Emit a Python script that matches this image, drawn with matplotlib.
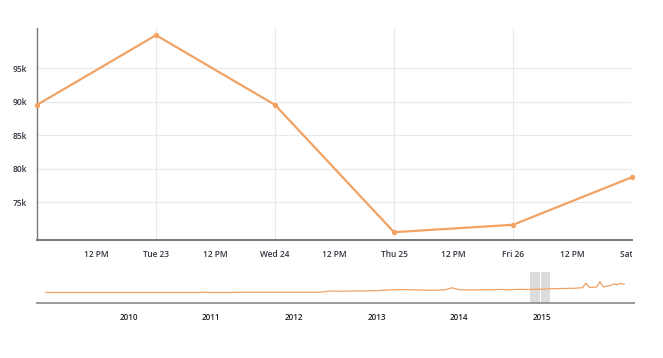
import numpy as np
import pandas as pd
import matplotlib
matplotlib.use("Agg")
import matplotlib.pyplot as plt
from matplotlib.transforms import Bbox, TransformedBbox

plt.rcParams['font.family'] = ['Open Sans', 'DejaVu Sans']

# main chart: one point per day, Dec 2014
day_dates = pd.date_range('2014-12-22', '2014-12-27', freq='D')
day_values = [89500, 99900, 89500, 70500, 71600, 78700]

# navigator: monthly overview 2009..2014, twice a month for 2015
nav_dates = list(pd.date_range('2009-01-01', '2014-12-01', freq='MS')) + \
    list(pd.date_range('2015-01-01', '2015-12-16', freq='SMS')) + [pd.Timestamp('2016-01-01')]
nav_values = [
    68, 68, 68, 68, 68, 68, 68, 68, 68, 68, 68, 68,      # 2009
    68, 68, 68, 68, 68, 68, 68, 68, 68, 68, 68, 69,      # 2010
    68, 68, 68, 68, 69, 69, 69, 69, 69, 69, 69, 69,      # 2011
    69, 69, 69, 69, 70, 76, 77, 76, 77, 78, 77, 79,      # 2012
    80, 82, 84, 86, 87, 85, 84, 83, 82, 83, 85, 98,      # 2013
    86, 85, 84, 85, 86, 86, 87, 86, 87, 88, 87, 88,      # 2014
    89, 90, 91, 92, 92, 93, 94, 93, 95, 94, 96, 97,      # 2015 Jan-Jun
    99, 128, 100, 101, 103, 137, 104, 108, 113, 123, 118, 126,  # 2015 Jul-Dec
    120,                                                 # 2016
]
nav_values = [v * 1000 for v in nav_values]

y_ticks = [75000, 80000, 85000, 90000, 95000]

line_color = '#F2A263'
text_color = '#333340'

fig = plt.figure(figsize=(6.63, 3.58), dpi=100)
ax = fig.add_axes([37 / 663, 1 - 240 / 358, 595 / 663, 212 / 358])
nav = fig.add_axes([37 / 663, 1 - 303 / 358, 597 / 663, 31 / 358])

# ---- main chart
ax.plot(day_dates, day_values, color=line_color, lw=1.6, marker='o', ms=2.8,
        zorder=3, clip_on=False)
ax.set_xlim(day_dates[0], day_dates[-1])
ax.set_ylim(69330, 100970)

major = list(day_dates[1:])
minor = list(pd.date_range('2014-12-22 12:00', periods=5, freq='D'))
ticks = sorted(major + minor)
labels = [('12 PM' if t.hour == 12 else t.strftime('%a %d')) for t in ticks]
ax.set_xticks(ticks)
ax.set_xticklabels(labels)
ax.set_yticks(y_ticks)
ax.set_yticklabels(['%dk' % (v // 1000) for v in y_ticks])
ax.tick_params(length=0, labelsize=6, labelcolor=text_color, pad=7)
for lab in ax.get_xticklabels() + ax.get_yticklabels():
    lab.set_fontweight(600)

for t in major:
    ax.axvline(t, color='#e9e9e9', lw=0.8, zorder=1)
for v in y_ticks:
    ax.axhline(v, color='#e9e9e9', lw=0.8, zorder=1)

for side in ['top', 'right']:
    ax.spines[side].set_visible(False)
ax.spines['left'].set_color('#777777')
ax.spines['bottom'].set_color('#777777')
ax.spines['left'].set_linewidth(1.0)
ax.spines['bottom'].set_linewidth(1.4)

# cut the last label off at the plot edge
clip = TransformedBbox(Bbox([[0, 0], [632 / 663, 1]]), fig.transFigure)
for lab in ax.get_xticklabels():
    lab.set_clip_box(clip)
    lab.set_clip_on(True)

# ---- navigator
nav.plot(nav_dates, nav_values, color=line_color, lw=0.9, zorder=3)
nav.set_xlim(pd.Timestamp('2008-11-23'), pd.Timestamp('2016-02-13'))
nav.set_ylim(0, 200000)

sel_mid = day_dates[0] + (day_dates[-1] - day_dates[0]) / 2
half = pd.Timedelta(days=44)
nav.axvspan(sel_mid - half, sel_mid + half, color='#dcdcdc', zorder=2, lw=0)
nav.axvline(sel_mid, color='white', lw=0.8, zorder=2)

years = [pd.Timestamp('%d-01-01' % y) for y in range(2010, 2016)]
nav.set_xticks(years)
nav.set_xticklabels([str(y.year) for y in years])
nav.set_yticks([])
nav.tick_params(length=0, labelsize=5.8, labelcolor='#222222', pad=7)
for lab in nav.get_xticklabels():
    lab.set_fontweight(600)
for side in ['top', 'right', 'left']:
    nav.spines[side].set_visible(False)
nav.spines['bottom'].set_color('#999999')
nav.spines['bottom'].set_linewidth(1.4)
nav.patch.set_alpha(0)

fig.savefig('out.png', dpi=100)
